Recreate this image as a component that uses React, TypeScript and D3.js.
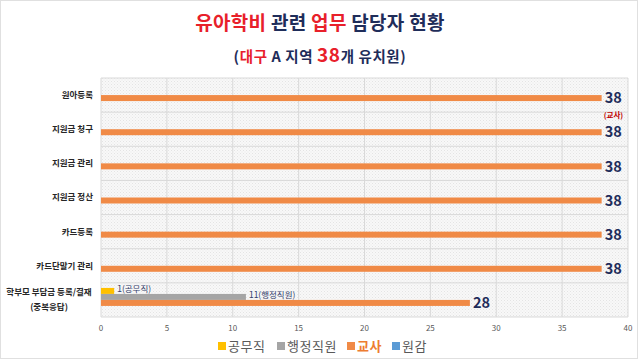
import React, { useEffect, useRef } from 'react';
import * as d3 from 'd3';

const categories = [
  '원아등록',
  '지원금 청구',
  '지원금 관리',
  '지원금 정산',
  '카드등록',
  '카드단말기 관리',
  '학부모 부담금 등록/결재\n(중복응답)',
];
const seriesNames = ['공무직', '행정직원', '교사', '원감'];
const gongmu = [0, 0, 0, 0, 0, 0, 1];
const haengjeong = [0, 0, 0, 0, 0, 0, 11];
const gyosa = [38, 38, 38, 38, 38, 38, 28];
const wongam = [0, 0, 0, 0, 0, 0, 0];
const xTicks = [0, 5, 10, 15, 20, 25, 30, 35, 40];

const W = 640;
const H = 361;
const FONT = '"Noto Sans CJK KR", "Noto Sans", sans-serif';
const NAVY = '#1f2d5a';
const RED = '#e8202a';

export default function App() {
  const ref = useRef<SVGSVGElement>(null);

  useEffect(() => {
    const svg = d3.select(ref.current);
    svg.selectAll('*').remove();

    const values = [gongmu, haengjeong, gyosa, wongam];
    const colors = ['#ffc000', '#a5a5a5', '#f08a46', '#5b9bd5'];

    const left = 101, right = 628, top = 78, bottom = 317;
    const x = d3.scaleLinear().domain([0, 40]).range([left, right]);
    const y = d3.scaleBand().domain(categories).range([top, bottom]);

    svg.append('rect')
      .attr('x', 0.5).attr('y', 0.5)
      .attr('width', W - 3).attr('height', H - 3)
      .attr('fill', '#fff').attr('stroke', '#e0e0e0');

    // dotted plot background
    const pat = svg.append('defs').append('pattern')
      .attr('id', 'dots').attr('width', 3).attr('height', 3)
      .attr('patternUnits', 'userSpaceOnUse');
    pat.append('rect').attr('width', 3).attr('height', 3).attr('fill', '#f8f8f8');
    pat.append('rect').attr('width', 1).attr('height', 1).attr('fill', '#e4e4e4');
    pat.append('rect').attr('x', 1.5).attr('y', 1.5).attr('width', 1).attr('height', 1).attr('fill', '#ebebeb');

    svg.append('rect')
      .attr('x', left).attr('y', top)
      .attr('width', right - left).attr('height', bottom - top)
      .attr('fill', 'url(#dots)');

    // grid
    svg.append('g').selectAll('line')
      .data(xTicks)
      .join('line')
        .attr('x1', d => x(d)).attr('x2', d => x(d))
        .attr('y1', top).attr('y2', bottom)
        .attr('stroke', '#d9d9d9').attr('stroke-width', 1);
    svg.append('g').selectAll('line')
      .data([...categories.map(c => y(c)!), bottom])
      .join('line')
        .attr('x1', left).attr('x2', right)
        .attr('y1', d => d).attr('y2', d => d)
        .attr('stroke', '#d9d9d9').attr('stroke-width', 1);

    // x tick labels
    svg.append('g')
      .attr('font-family', FONT).attr('font-size', 8).attr('fill', '#595959')
      .attr('text-anchor', 'middle')
    .selectAll('text')
    .data(xTicks)
    .join('text')
      .attr('x', d => x(d)).attr('y', 331)
      .text(d => d);

    // bars
    const inner = d3.scaleBand().domain(seriesNames).range([-12, 12]);
    seriesNames.forEach((s, si) => {
      svg.append('g').selectAll('rect')
        .data(categories.map((c, i) => ({ c, v: values[si][i] })))
        .join('rect')
          .attr('x', x(0))
          .attr('y', d => y(d.c)! + y.bandwidth() / 2 + inner(s)!)
          .attr('width', d => x(d.v) - x(0))
          .attr('height', inner.bandwidth())
          .attr('fill', colors[si]);
    });

    // teacher labels
    svg.append('g')
      .attr('font-family', FONT).attr('font-size', 14.5).attr('font-weight', 'bold')
      .attr('fill', NAVY)
    .selectAll('text')
    .data(categories.map((c, i) => ({ c, v: gyosa[i] })))
    .join('text')
      .attr('x', d => x(d.v) + 3)
      .attr('y', d => y(d.c)! + y.bandwidth() / 2 + inner('교사')! + inner.bandwidth() / 2)
      .attr('dy', '0.36em')
      .text(d => d.v);

    svg.append('text')
      .attr('x', x(gyosa[0]) + 2).attr('y', y(categories[0])! + y.bandwidth() / 2 + 23)
      .attr('font-family', FONT).attr('font-size', 7.5).attr('font-weight', 'bold')
      .attr('fill', '#c00000')
      .text('(교사)');

    // small series labels
    const last = categories[categories.length - 1];
    [[0, gongmu, '공무직'], [1, haengjeong, '행정직원']].forEach(([si, vals, name]: any) => {
      const v = vals[vals.length - 1];
      svg.append('text')
        .attr('x', x(v) + 3)
        .attr('y', y(last)! + y.bandwidth() / 2 + inner(seriesNames[si])! + inner.bandwidth() / 2)
        .attr('dy', '0.1em')
        .attr('font-family', FONT).attr('font-size', 8.5).attr('fill', '#33406b')
        .text(`${v}(${name})`);
    });

    // category labels
    const cat = svg.append('g')
      .attr('font-family', FONT).attr('font-size', 8.5).attr('font-weight', 'bold')
      .attr('fill', '#262626');
    categories.forEach(c => {
      const lines = c.split('\n');
      const cy = y(c)! + y.bandwidth() / 2;
      if (lines.length === 1) {
        cat.append('text').attr('x', 93).attr('y', cy).attr('dy', '0.35em')
          .attr('text-anchor', 'end').text(c);
      } else {
        const t = cat.append('text').attr('text-anchor', 'middle');
        lines.forEach((l, i) => {
          t.append('tspan').attr('x', 49).attr('y', cy - 8 + i * 15).attr('dy', '0.35em').text(l);
        });
      }
    });

    // title
    const title = svg.append('text')
      .attr('x', W / 2).attr('y', 23).attr('dy', '0.35em')
      .attr('text-anchor', 'middle')
      .attr('font-family', FONT).attr('font-size', 19).attr('font-weight', 'bold')
      .attr('letter-spacing', 0.3);
    [['유아학비 ', RED], ['관련 ', NAVY], ['업무 ', RED], ['담당자 현황', NAVY]].forEach(([t, col]) => {
      title.append('tspan').attr('fill', col).text(t);
    });

    const sub = svg.append('text')
      .attr('x', W / 2).attr('y', 57).attr('dy', '0.35em')
      .attr('text-anchor', 'middle')
      .attr('font-family', FONT).attr('font-size', 14.5).attr('font-weight', 'bold')
      .attr('letter-spacing', 0.6);
    [['(', NAVY, 14.5], ['대구', RED, 14.5], [' A 지역 ', NAVY, 14.5], ['38', RED, 19], ['개 유치원)', NAVY, 14.5]]
      .forEach(([t, col, fs]) => {
        sub.append('tspan').attr('fill', col as string).attr('font-size', fs as number).text(t as string);
      });

    // legend
    const legend = svg.append('g').attr('font-family', FONT).attr('font-size', 13);
    const legendX = [218, 277, 347, 392];
    seriesNames.forEach((s, i) => {
      legend.append('rect')
        .attr('x', legendX[i]).attr('y', 342)
        .attr('width', 8).attr('height', 8)
        .attr('fill', colors[i]);
      legend.append('text')
        .attr('x', legendX[i] + 10).attr('y', 346).attr('dy', '0.35em')
        .attr('fill', s === '교사' ? '#ed7d31' : '#595959')
        .attr('font-weight', s === '교사' ? 'bold' : 'normal')
        .attr('letter-spacing', 0.5)
        .text(s);
    });
  }, []);

  return (
    <svg
      ref={ref}
      width={W}
      height={H}
      style={{ position: 'absolute', left: 0, top: 0, background: '#fff' }}
    />
  );
}
